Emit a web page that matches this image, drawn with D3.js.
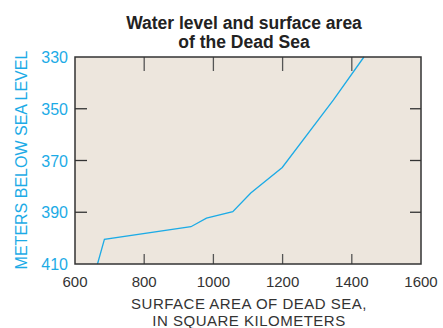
<!DOCTYPE html>
<html>
<head>
<meta charset="utf-8">
<script src="https://cdn.jsdelivr.net/npm/d3@7"></script>
<style>
  body { margin: 0; background: #fff; }
  svg { display: block; font-family: "Liberation Sans", Arial, sans-serif; }
</style>
</head>
<body>
<div id="chart"></div>
<script>
// surface area (km²) vs. metres below sea level
const areaKm2 = [665, 685, 935, 980, 1056, 1108, 1199, 1347, 1435];
const depthM  = [410, 400.5, 395.6, 392.3, 389.8, 382.6, 372.7, 346.6, 330];
const xTicks = [600, 800, 1000, 1200, 1400, 1600];
const yTicks = [330, 350, 370, 390, 410];

const W = 443, H = 328;
const plotL = 75, plotR = 421, plotT = 57, plotB = 264;
const blue = "#1cabe6", ink = "#333";

const svg = d3.select("#chart").append("svg").attr("width", W).attr("height", H);

const x = d3.scaleLinear().domain([600, 1600]).range([plotL, plotR]);
const y = d3.scaleLinear().domain([330, 410]).range([plotT, plotB]);

// title
svg.append("text").attr("x", 244).attr("y", 29).attr("text-anchor", "middle")
  .attr("font-size", "17.5px").attr("font-weight", "bold").attr("fill", "#222")
  .text("Water level and surface area");
svg.append("text").attr("x", 244).attr("y", 47.5).attr("text-anchor", "middle")
  .attr("font-size", "17.5px").attr("font-weight", "bold").attr("fill", "#222")
  .text("of the Dead Sea");

// plot background
svg.append("rect").attr("x", plotL).attr("y", plotT)
  .attr("width", plotR - plotL).attr("height", plotB - plotT)
  .attr("fill", "#ede6dd");

// inside ticks
const inner = xTicks.slice(1, -1);
svg.append("g").selectAll("line").data(inner).enter().append("line")
  .attr("x1", d => x(d)).attr("x2", d => x(d))
  .attr("y1", plotT).attr("y2", plotT + 14)
  .attr("stroke", "#555").attr("stroke-width", 1.3);
svg.append("g").selectAll("line").data(inner).enter().append("line")
  .attr("x1", d => x(d)).attr("x2", d => x(d))
  .attr("y1", plotB).attr("y2", plotB - 10)
  .attr("stroke", "#555").attr("stroke-width", 1.3);
const innerY = yTicks.slice(1, -1);
svg.append("g").selectAll("line").data(innerY).enter().append("line")
  .attr("x1", plotL).attr("x2", plotL + 12)
  .attr("y1", d => y(d)).attr("y2", d => y(d))
  .attr("stroke", "#333").attr("stroke-width", 1.3);
svg.append("g").selectAll("line").data(innerY).enter().append("line")
  .attr("x1", plotR).attr("x2", plotR - 11)
  .attr("y1", d => y(d)).attr("y2", d => y(d))
  .attr("stroke", "#333").attr("stroke-width", 1.3);

// the line
const line = d3.line().x(d => x(d[0])).y(d => y(d[1]));
svg.append("path").datum(d3.zip(areaKm2, depthM))
  .attr("d", line).attr("fill", "none")
  .attr("stroke", blue).attr("stroke-width", 1.3);

// frame
svg.append("rect").attr("x", plotL).attr("y", plotT)
  .attr("width", plotR - plotL).attr("height", plotB - plotT)
  .attr("fill", "none").attr("stroke", ink).attr("stroke-width", 1.5);

// tick labels
svg.append("g").selectAll("text").data(xTicks).enter().append("text")
  .attr("x", d => x(d)).attr("y", 287).attr("text-anchor", "middle")
  .attr("font-size", "15px").attr("fill", ink).text(d => d);
svg.append("g").selectAll("text").data(yTicks).enter().append("text")
  .attr("x", 68).attr("y", d => y(d) + 6).attr("text-anchor", "end")
  .attr("font-size", "16px").attr("fill", blue).text(d => d);

// axis titles
svg.append("text").attr("x", 249).attr("y", 308.5).attr("text-anchor", "middle")
  .attr("font-size", "15px").attr("letter-spacing", "0.5px").attr("fill", ink)
  .text("SURFACE AREA OF DEAD SEA,");
svg.append("text").attr("x", 249).attr("y", 325.5).attr("text-anchor", "middle")
  .attr("font-size", "15px").attr("letter-spacing", "0.5px").attr("fill", ink)
  .text("IN SQUARE KILOMETERS");
svg.append("text").attr("transform", "translate(27,160) rotate(-90)")
  .attr("text-anchor", "middle").attr("font-size", "16px").attr("fill", blue)
  .text("METERS BELOW SEA LEVEL");
</script>
</body>
</html>
